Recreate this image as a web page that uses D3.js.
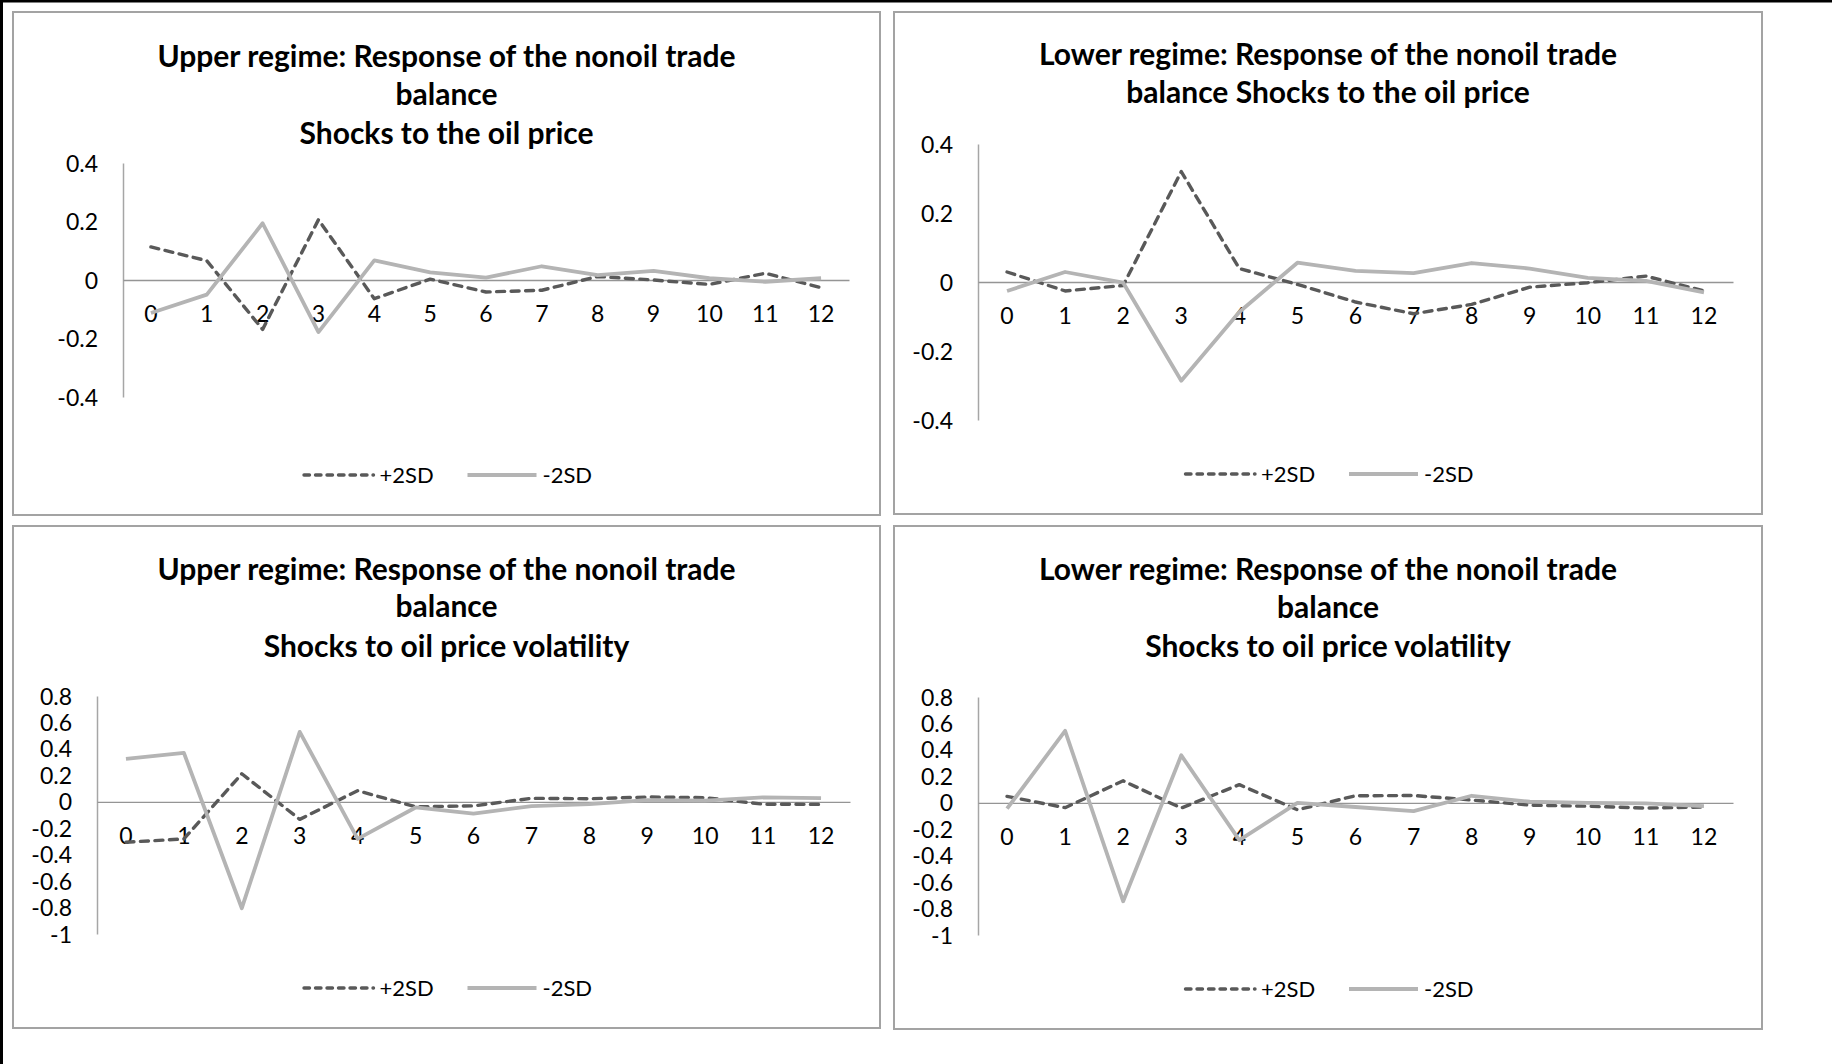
<!DOCTYPE html>
<html>
<head>
<meta charset="utf-8">
<script src="https://cdn.jsdelivr.net/npm/d3@7"></script>
<style>
  html, body { margin: 0; padding: 0; background: #fff; }
  svg { display: block; }
  .title { font-family: Lato, "Open Sans", sans-serif; font-weight: bold; font-size: 30px; fill: #000; }
  .tick text { font-family: Lato, "Open Sans", sans-serif; font-size: 23px; fill: #000; }
  .legend text { font-family: Lato, "Open Sans", sans-serif; font-size: 22px; fill: #000; }
</style>
</head>
<body>
<div id="chart"></div>
<script>
// horizon (periods after the shock)
const categories = [0, 1, 2, 3, 4, 5, 6, 7, 8, 9, 10, 11, 12];
const seriesNames = ["+2SD", "-2SD"];

// upper regime, shocks to the oil price
const upperOilPlus  = [0.113, 0.066, -0.169, 0.206, -0.064, 0.003, -0.041, -0.035, 0.012, 0.000, -0.015, 0.023, -0.026];
const upperOilMinus = [-0.113, -0.050, 0.194, -0.178, 0.067, 0.026, 0.008, 0.047, 0.017, 0.031, 0.006, -0.006, 0.006];

// lower regime, shocks to the oil price
const lowerOilPlus  = [0.029, -0.026, -0.010, 0.320, 0.039, -0.007, -0.058, -0.092, -0.065, -0.015, -0.002, 0.017, -0.026];
const lowerOilMinus = [-0.026, 0.029, -0.002, -0.286, -0.087, 0.056, 0.032, 0.026, 0.055, 0.039, 0.012, 0.003, -0.030];

// upper regime, shocks to oil price volatility
const upperVolPlus  = [-0.306, -0.281, 0.212, -0.133, 0.084, -0.038, -0.031, 0.026, 0.023, 0.036, 0.031, -0.018, -0.020];
const upperVolMinus = [0.324, 0.370, -0.805, 0.529, -0.281, -0.043, -0.089, -0.033, -0.018, 0.013, 0.008, 0.033, 0.028];

// lower regime, shocks to oil price volatility
const lowerVolPlus  = [0.048, -0.037, 0.166, -0.040, 0.137, -0.053, 0.053, 0.055, 0.021, -0.018, -0.026, -0.040, -0.032];
const lowerVolMinus = [-0.045, 0.544, -0.745, 0.359, -0.283, 0.000, -0.032, -0.063, 0.053, 0.008, 0.000, -0.005, -0.026];

const priceTicks = [0.4, 0.2, 0, -0.2, -0.4];
const volTicks = [0.8, 0.6, 0.4, 0.2, 0, -0.2, -0.4, -0.6, -0.8, -1];

const titles = [
  ["Upper regime: Response of the nonoil trade", "balance", "Shocks to the oil price"],
  ["Lower regime: Response of the nonoil trade", "balance Shocks to the oil price"],
  ["Upper regime: Response of the nonoil trade", "balance", "Shocks to oil price volatility"],
  ["Lower regime: Response of the nonoil trade", "balance", "Shocks to oil price volatility"]
];

const W = 1832, H = 1064;

const panels = [
  { box: [13, 12, 880, 515], plot: [123, 849, 163, 397], ticks: priceTicks, titleY: [55, 93, 132], legendY: 475,
    title: titles[0], plus: upperOilPlus, minus: upperOilMinus },
  { box: [894, 12, 1762, 514], plot: [978, 1733, 144, 420], ticks: priceTicks, titleY: [53, 91], legendY: 474,
    title: titles[1], plus: lowerOilPlus, minus: lowerOilMinus },
  { box: [13, 526, 880, 1028], plot: [97, 850, 696, 934], ticks: volTicks, titleY: [568, 605, 645], legendY: 988,
    title: titles[2], plus: upperVolPlus, minus: upperVolMinus },
  { box: [894, 526, 1762, 1029], plot: [978, 1733, 697, 935], ticks: volTicks, titleY: [568, 606, 645], legendY: 989,
    title: titles[3], plus: lowerVolPlus, minus: lowerVolMinus }
];

const plusStyle = { color: "#595959", width: 3.4, dash: "8,6.5", cap: "round" };
const minusStyle = { color: "#b4b4b4", width: 3.8, dash: null, cap: "butt" };

const svg = d3.select("#chart")
  .append("svg")
  .attr("width", W)
  .attr("height", H);

svg.append("rect").attr("width", W).attr("height", H).attr("fill", "#fff");

// outer frame of the figure (only top and left edges show)
svg.append("line").attr("x1", 0).attr("x2", W).attr("y1", 1).attr("y2", 1)
  .attr("stroke", "#000").attr("stroke-width", 3);
svg.append("line").attr("x1", 1.5).attr("x2", 1.5).attr("y1", 0).attr("y2", H)
  .attr("stroke", "#000").attr("stroke-width", 3);

panels.forEach(p => {
  const [bx0, by0, bx1, by1] = p.box;
  const [px0, px1, py0, py1] = p.plot;
  const cx = (bx0 + bx1) / 2;
  const g = svg.append("g");

  g.append("rect")
    .attr("x", bx0).attr("y", by0)
    .attr("width", bx1 - bx0).attr("height", by1 - by0)
    .attr("fill", "#fff")
    .attr("stroke", "#a3a3a3")
    .attr("stroke-width", 2);

  g.selectAll(".title")
    .data(p.title)
    .enter().append("text")
    .attr("class", "title")
    .attr("x", cx)
    .attr("y", (d, i) => p.titleY[i])
    .attr("text-anchor", "middle")
    .attr("dominant-baseline", "central")
    .text(d => d);

  const x = d3.scaleBand().domain(categories).range([px0, px1]);
  const y = d3.scaleLinear()
    .domain([d3.min(p.ticks), d3.max(p.ticks)])
    .range([py1, py0]);
  const xc = c => x(c) + x.bandwidth() / 2;

  // value axis
  const ya = g.append("g")
    .attr("transform", `translate(${px0},0)`)
    .call(d3.axisLeft(y).tickValues(p.ticks).tickSize(0).tickSizeOuter(0).tickPadding(25).tickFormat(d => String(d)));
  ya.select(".domain").attr("stroke", "#a6a6a6").attr("stroke-width", 1.5);

  // category axis sits on zero
  const xa = g.append("g")
    .attr("transform", `translate(0,${y(0)})`)
    .call(d3.axisBottom(x).tickSize(0).tickSizeOuter(0));
  xa.select(".domain").attr("stroke", "#959595").attr("stroke-width", 1.3);
  xa.selectAll(".tick text").attr("y", 34).attr("dy", "0.35em");
  ya.selectAll(".tick text").attr("dy", "0.35em");

  const line = d3.line()
    .x((d, i) => xc(categories[i]))
    .y(d => y(d));

  [[p.plus, plusStyle], [p.minus, minusStyle]].forEach(([vals, st]) => {
    g.append("path")
      .attr("d", line(vals))
      .attr("fill", "none")
      .attr("stroke", st.color)
      .attr("stroke-width", st.width)
      .attr("stroke-dasharray", st.dash)
      .attr("stroke-linecap", st.cap)
      .attr("stroke-linejoin", "round");
  });

  // legend
  const lg = g.append("g").attr("class", "legend")
    .attr("transform", `translate(${cx},${p.legendY})`);
  const items = [
    { name: seriesNames[0], st: plusStyle, x0: -144, x1: -73, tx: -67 },
    { name: seriesNames[1], st: minusStyle, x0: 21, x1: 90, tx: 96 }
  ];
  items.forEach(it => {
    lg.append("line")
      .attr("x1", it.x0 + (it.st.cap === "round" ? 1.5 : 0)).attr("x2", it.x1)
      .attr("y1", 0).attr("y2", 0)
      .attr("stroke", it.st.color)
      .attr("stroke-width", it.st.width)
      .attr("stroke-dasharray", it.st.cap === "round" ? "5.5,6" : it.st.dash)
      .attr("stroke-linecap", it.st.cap);
    lg.append("text")
      .attr("x", it.tx)
      .attr("y", 0)
      .attr("dy", "0.35em")
      .text(it.name);
  });
});
</script>
</body>
</html>
